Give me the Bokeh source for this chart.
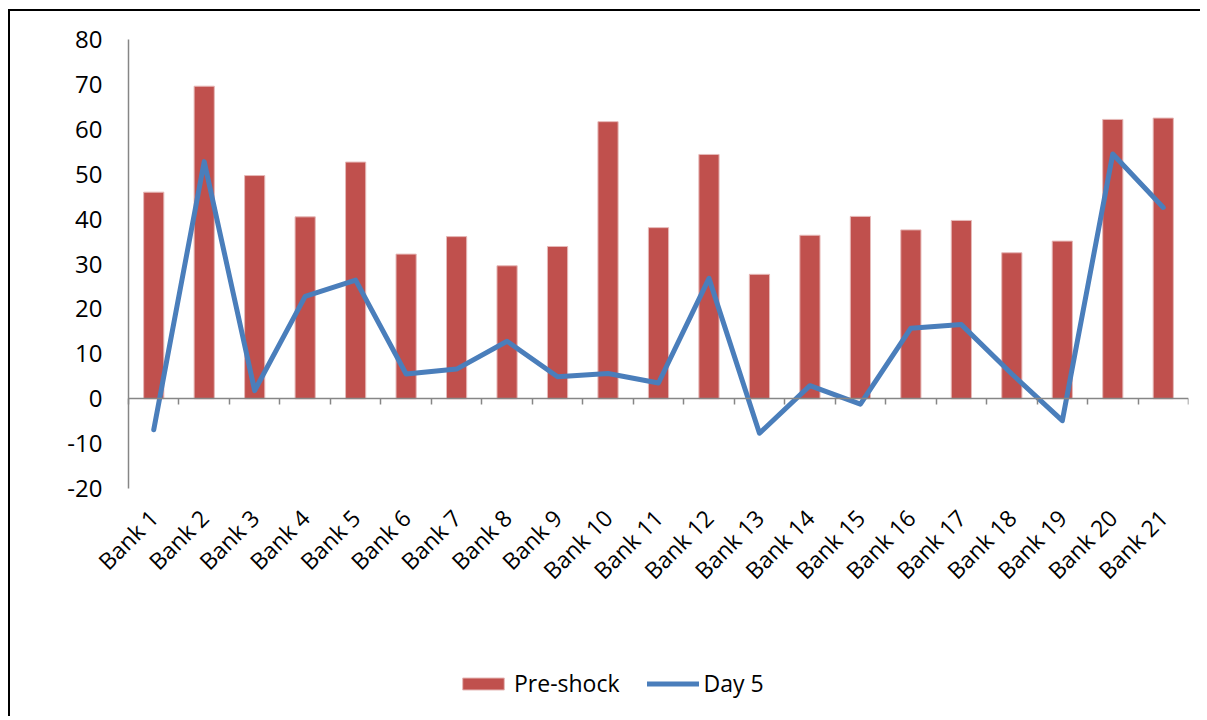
from math import pi
from bokeh.plotting import figure
from bokeh.models import (Range1d, FixedTicker, Legend, LegendItem,
                          ColumnDataSource)
from bokeh.core.properties import value
from bokeh.embed import file_html
from bokeh.resources import INLINE

banks = [f"Bank {i}" for i in range(1, 22)]
pre_shock = [46.0, 69.6, 49.7, 40.5, 52.7, 32.2, 36.1, 29.6, 33.9, 61.7, 38.1,
             54.4, 27.7, 36.4, 40.6, 37.6, 39.7, 32.5, 35.1, 62.2, 62.5]
day5 = [-6.9, 52.8, 1.8, 22.8, 26.4, 5.5, 6.6, 12.8, 4.9, 5.6, 3.5,
        26.8, -7.7, 2.9, -1.2, 15.7, 16.5, 5.5, -4.9, 54.5, 42.6]
y_ticks = [-20, -10, 0, 10, 20, 30, 40, 50, 60, 70, 80]
y_tick_labels = [str(t) for t in y_ticks]

FONT = "Open Sans"
AXIS_GREY = "#868686"

# layout geometry (pixels)
AXIS_W = 1060          # width of the category axis
LEFT_PAD = 68          # frame extends left of the value axis (room for labels)
TOP_PAD = 20           # frame extends above the value axis (room for top label)
AXIS_PX = 449          # height of the -20..80 value axis
BELOW_PX = 213         # frame extends below the axis to hold labels + legend
n = len(banks)
x_lo, x_hi = 0.5, n + 0.5
px_per_cat = AXIS_W / (x_hi - x_lo)
x_start = x_lo - LEFT_PAD / px_per_cat
y_lo, y_hi = y_ticks[0], y_ticks[-1]
px_per_unit = AXIS_PX / (y_hi - y_lo)
y_start = y_lo - BELOW_PX / px_per_unit
y_end = y_hi + TOP_PAD / px_per_unit

xs = list(range(1, n + 1))
src = ColumnDataSource(dict(x=xs, pre=pre_shock, day5=day5, name=banks,
                            base=[y_lo] * n))
ysrc = ColumnDataSource(dict(x=[x_lo] * len(y_ticks), y=y_ticks,
                             label=y_tick_labels))

p = figure(frame_width=AXIS_W + LEFT_PAD, frame_height=TOP_PAD + AXIS_PX + BELOW_PX,
           output_backend="svg", toolbar_location=None,
           x_range=Range1d(x_start, x_hi),
           y_range=Range1d(y_start, y_end),
           min_border_left=118 - LEFT_PAD, min_border_top=28 - TOP_PAD,
           min_border_right=12, min_border_bottom=15)
p.styles = {"border-top": "2px solid black", "border-left": "2px solid black",
            "margin-left": "8px", "margin-top": "9px"}
p.outline_line_color = None
p.xgrid.visible = False
p.ygrid.visible = False
p.background_fill_color = "white"
p.border_fill_color = "white"

bars = p.vbar(x="x", top="pre", width=0.4, source=src, fill_color="#C0504D",
              line_color="#E6B9B8", line_width=1)
line = p.line(x="x", y="day5", source=src, line_color="#4A7EBB", line_width=5,
              line_join="round", line_cap="round")

# category labels, rotated, under the value axis bottom
p.text(x="x", y="base", text="name", source=src, angle=pi / 4,
       text_align="right", text_baseline="middle",
       x_offset=0, y_offset=25,
       text_font=value(FONT), text_font_size="23px", text_color="black")

# value-axis tick labels
p.text(x="x", y="y", text="label", source=ysrc, x_offset=-26,
       text_align="right", text_baseline="middle",
       text_font=value(FONT), text_font_size="24px", text_color="black")

# y axis line placed at the left edge of the category axis
ya = p.yaxis[0]
ya.fixed_location = x_lo
ya.ticker = FixedTicker(ticks=y_ticks)
ya.bounds = (y_lo, y_hi)
ya.axis_line_color = AXIS_GREY
ya.axis_line_width = 1.5
ya.major_tick_line_color = None
ya.major_tick_out = 0
ya.major_tick_in = 0
ya.minor_tick_line_color = None
ya.major_label_standoff = 0
ya.major_label_text_font_size = "0px"
ya.major_label_text_color = None

# category axis line at y = 0 with ticks between categories
xa = p.xaxis[0]
xa.fixed_location = 0
xa.bounds = (x_lo, x_hi)
xa.ticker = FixedTicker(ticks=[x - 0.5 for x in xs] + [xs[-1] + 0.5])
xa.axis_line_color = AXIS_GREY
xa.axis_line_width = 1.5
xa.major_tick_line_color = AXIS_GREY
xa.major_tick_line_width = 1.5
xa.major_tick_out = 6
xa.major_tick_in = 0
xa.minor_tick_line_color = None
xa.major_label_standoff = 0
xa.major_label_text_font_size = "0px"
xa.major_label_text_color = None

legend = Legend(items=[LegendItem(label="Pre-shock", renderers=[bars]),
                       LegendItem(label="Day 5", renderers=[line])],
                orientation="horizontal", location=(332 + LEFT_PAD - 3, 2),
                glyph_width=52, glyph_height=15, label_standoff=5, spacing=27,
                padding=0, margin=0, border_line_color=None,
                background_fill_alpha=0,
                label_text_font=FONT, label_text_font_size="23px",
                label_text_color="black")
p.add_layout(legend, "center")

open("out.html", "w").write(file_html(p, INLINE))
